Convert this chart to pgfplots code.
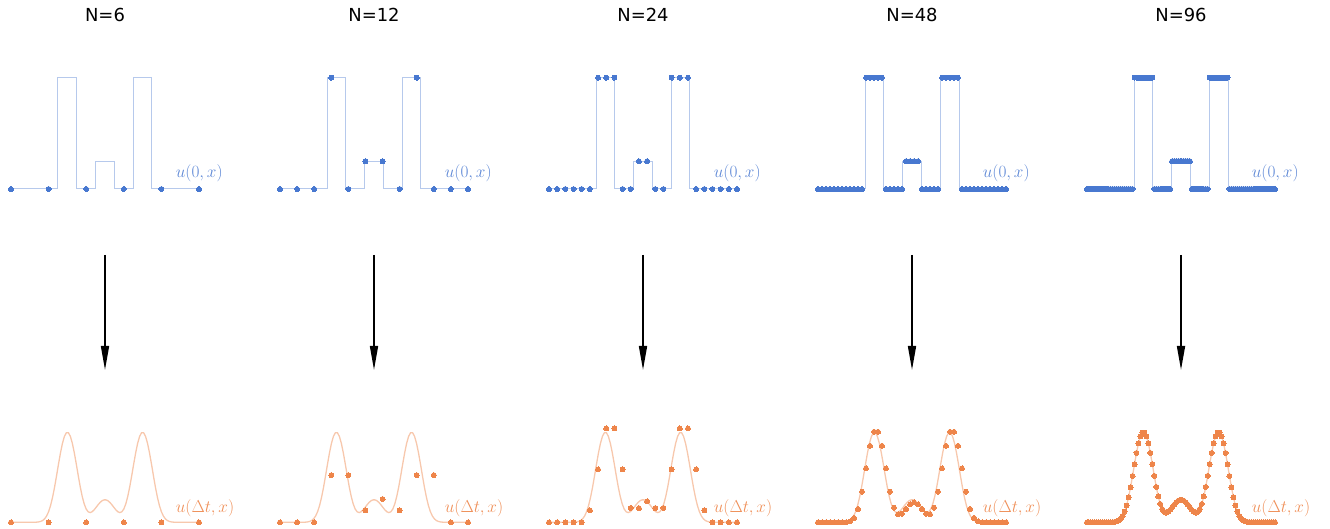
\documentclass[border=0pt]{standalone}
\usepackage{pgfplots}
\pgfplotsset{compat=1.18}
\usepackage{pgfplotstable}
\usepackage{fontspec}
\setmainfont{DejaVu Sans}
\usetikzlibrary{arrows.meta}

\definecolor{cblue}{HTML}{4878D0}
\definecolor{corange}{HTML}{EE854A}

% smooth solution u(dt,x) sampled on the 96-point grid (x index 0..95)
\pgfplotstableread{
i u
0 0
1 0
2 0
3 0
4 0
5 0
6 0
7 0
8 0
9 0
10 0.0001
11 0.0002
12 0.0006
13 0.0015
14 0.0036
15 0.0080
16 0.0164
17 0.0314
18 0.0566
19 0.0953
20 0.1506
21 0.2240
22 0.3138
23 0.4158
24 0.5221
25 0.6232
26 0.7096
27 0.7722
28 0.8052
29 0.8052
30 0.7722
31 0.7098
32 0.6236
33 0.5230
34 0.4178
35 0.3179
36 0.2319
37 0.1648
38 0.1191
39 0.0943
40 0.0874
41 0.0949
42 0.1120
43 0.1341
44 0.1573
45 0.1780
46 0.1933
47 0.2014
48 0.2014
49 0.1933
50 0.1780
51 0.1573
52 0.1341
53 0.1120
54 0.0949
55 0.0874
56 0.0943
57 0.1191
58 0.1648
59 0.2319
60 0.3179
61 0.4178
62 0.5230
63 0.6236
64 0.7098
65 0.7722
66 0.8052
67 0.8052
68 0.7722
69 0.7096
70 0.6232
71 0.5221
72 0.4158
73 0.3138
74 0.2240
75 0.1506
76 0.0953
77 0.0566
78 0.0314
79 0.0164
80 0.0080
81 0.0036
82 0.0015
83 0.0006
84 0.0002
85 0.0001
86 0
87 0
88 0
89 0
90 0
91 0
92 0
93 0
94 0
95 0
}\curve

\pgfplotsset{
  panel/.style={hide axis, scale only axis, width=188bp, height=111.3bp,
    ymin=0, ymax=1, clip=false, anchor=south west},
  dotsB/.style={only marks, mark=*, mark size=2.5bp, color=cblue,
    mark options={fill=cblue, draw=cblue, line width=0pt}},
  dotsO/.style={only marks, mark=*, mark size=2.5bp, color=corange,
    mark options={fill=corange, draw=corange, line width=0pt}},
  stepL/.style={no marks, color=cblue, opacity=0.4, line width=1bp},
  curveL/.style={no marks, color=corange, opacity=0.45, line width=1.3bp},
}
\newcommand{\steppath}{(0,0)(23.75,0)(23.75,1)(33.25,1)(33.25,0)(42.75,0)(42.75,0.25)(52.25,0.25)(52.25,0)(61.75,0)(61.75,1)(71.25,1)(71.25,0)(95,0)}
\newcommand{\toplabel}{\node[anchor=west, inner sep=0pt, text=cblue!88!white, font=\fontsize{16}{19}\selectfont] at (axis cs:83.2,0.144) {$u(0,x)$};}
\newcommand{\botlabel}{\node[anchor=west, inner sep=0pt, text=corange!92!white, font=\fontsize{16}{19}\selectfont] at (axis cs:83.2,0.128) {$u(\Delta t,x)$};}

\begin{document}
\begin{tikzpicture}
\useasboundingbox (0bp,0bp) rectangle (1330bp,529bp);

% ---------------- titles and arrows
\foreach \xx/\tt in {105/6,374/12,643/24,912/48,1181/96}{
  \node[font=\fontsize{18}{22}\selectfont, inner sep=0pt] at (\xx bp,514bp) {N=\tt};
  \draw[line width=1.6bp, -{Triangle[length=24bp,width=8bp]}] (\xx bp,274bp) -- (\xx bp,159bp);
}

% ================= N=6
\begin{axis}[panel, at={(11bp,340bp)}, xmin=0, xmax=95]
  \addplot[stepL] coordinates {\steppath};
  \toplabel
\end{axis}
\begin{axis}[panel, at={(11bp,340bp)}, xmin=0, xmax=5]
  \addplot[dotsB] coordinates {(0,0)(1,0)(2,0)(3,0)(4,0)(5,0)};
\end{axis}
\begin{axis}[panel, at={(11bp,6.7bp)}, xmin=0, xmax=95]
  \addplot[curveL] table[x=i,y=u] {\curve};
  \botlabel
\end{axis}
\begin{axis}[panel, at={(11bp,6.7bp)}, xmin=0, xmax=5]
  \addplot[dotsO] coordinates {(0,0)(1,0)(2,0)(3,0)(4,0)(5,0)};
\end{axis}

% ================= N=12
\begin{axis}[panel, at={(280bp,340bp)}, xmin=0, xmax=95]
  \addplot[stepL] coordinates {\steppath};
  \toplabel
\end{axis}
\begin{axis}[panel, at={(280bp,340bp)}, xmin=0, xmax=11]
  \addplot[dotsB] coordinates {(0,0)(1,0)(2,0)(3,1)(4,0)(5,0.25)(6,0.25)(7,0)(8,1)(9,0)(10,0)(11,0)};
\end{axis}
\begin{axis}[panel, at={(280bp,6.7bp)}, xmin=0, xmax=95]
  \addplot[curveL] table[x=i,y=u] {\curve};
  \botlabel
\end{axis}
\begin{axis}[panel, at={(280bp,6.7bp)}, xmin=0, xmax=11]
  \addplot[dotsO] coordinates {(0,0)(1,0)(2,0)(3,0.424)(4,0.424)(5,0.108)(6,0.209)(7,0.108)(8,0.424)(9,0.424)(10,0)(11,0)};
\end{axis}

% ================= N=24
\begin{axis}[panel, at={(549bp,340bp)}, xmin=0, xmax=95]
  \addplot[stepL] coordinates {\steppath};
  \toplabel
\end{axis}
\begin{axis}[panel, at={(549bp,340bp)}, xmin=0, xmax=23]
  \addplot[dotsB] coordinates {(0,0)(1,0)(2,0)(3,0)(4,0)(5,0)(6,1)(7,1)(8,1)(9,0)(10,0)(11,0.25)(12,0.25)(13,0)(14,0)(15,1)(16,1)(17,1)(18,0)(19,0)(20,0)(21,0)(22,0)(23,0)};
\end{axis}
\begin{axis}[panel, at={(549bp,6.7bp)}, xmin=0, xmax=95]
  \addplot[curveL] table[x=i,y=u] {\curve};
  \botlabel
\end{axis}
\begin{axis}[panel, at={(549bp,6.7bp)}, xmin=0, xmax=23]
  \addplot[dotsO] coordinates {(0,0)(1,0)(2,0)(3,0)(4,0)(5,0.108)(6,0.475)(7,0.843)(8,0.843)(9,0.475)(10,0.129)(11,0.128)(12,0.188)(13,0.128)(14,0.129)(15,0.475)(16,0.843)(17,0.843)(18,0.475)(19,0.108)(20,0)(21,0)(22,0)(23,0)};
\end{axis}

% ================= N=48
\begin{axis}[panel, at={(818bp,340bp)}, xmin=0, xmax=95]
  \addplot[stepL] coordinates {\steppath};
  \toplabel
\end{axis}
\begin{axis}[panel, at={(818bp,340bp)}, xmin=0, xmax=47]
  \addplot[dotsB] coordinates {(0,0)(1,0)(2,0)(3,0)(4,0)(5,0)(6,0)(7,0)(8,0)(9,0)(10,0)(11,0)(12,1)(13,1)(14,1)(15,1)(16,1)(17,0)(18,0)(19,0)(20,0)(21,0)(22,0.25)(23,0.25)(24,0.25)(25,0.25)(26,0)(27,0)(28,0)(29,0)(30,0)(31,1)(32,1)(33,1)(34,1)(35,1)(36,0)(37,0)(38,0)(39,0)(40,0)(41,0)(42,0)(43,0)(44,0)(45,0)(46,0)(47,0)};
\end{axis}
\begin{axis}[panel, at={(818bp,6.7bp)}, xmin=0, xmax=95]
  \addplot[curveL] table[x=i,y=u] {\curve};
  \botlabel
\end{axis}
\begin{axis}[panel, at={(818bp,6.7bp)}, xmin=0, xmax=47]
  \addplot[dotsO] coordinates {(0,0)(1,0)(2,0)(3,0)(4,0)(5,0)(6,0)(7,0)(8,0.008)(9,0.039)(10,0.119)(11,0.275)(12,0.484)(13,0.687)(14,0.813)(15,0.813)(16,0.687)(17,0.484)(18,0.275)(19,0.131)(20,0.072)(21,0.077)(22,0.119)(23,0.160)(24,0.179)(25,0.160)(26,0.119)(27,0.077)(28,0.072)(29,0.131)(30,0.275)(31,0.484)(32,0.687)(33,0.813)(34,0.813)(35,0.687)(36,0.484)(37,0.275)(38,0.119)(39,0.039)(40,0.008)(41,0)(42,0)(43,0)(44,0)(45,0)(46,0)(47,0)};
\end{axis}

% ================= N=96
\begin{axis}[panel, at={(1087bp,340bp)}, xmin=0, xmax=95]
  \addplot[stepL] coordinates {\steppath};
  \addplot[dotsB] coordinates {(0,0)(1,0)(2,0)(3,0)(4,0)(5,0)(6,0)(7,0)(8,0)(9,0)(10,0)(11,0)(12,0)(13,0)(14,0)(15,0)(16,0)(17,0)(18,0)(19,0)(20,0)(21,0)(22,0)(23,0)(24,1)(25,1)(26,1)(27,1)(28,1)(29,1)(30,1)(31,1)(32,1)(33,1)(34,0)(35,0)(36,0)(37,0)(38,0)(39,0)(40,0)(41,0)(42,0)(43,0.25)(44,0.25)(45,0.25)(46,0.25)(47,0.25)(48,0.25)(49,0.25)(50,0.25)(51,0.25)(52,0.25)(53,0)(54,0)(55,0)(56,0)(57,0)(58,0)(59,0)(60,0)(61,0)(62,1)(63,1)(64,1)(65,1)(66,1)(67,1)(68,1)(69,1)(70,1)(71,1)(72,0)(73,0)(74,0)(75,0)(76,0)(77,0)(78,0)(79,0)(80,0)(81,0)(82,0)(83,0)(84,0)(85,0)(86,0)(87,0)(88,0)(89,0)(90,0)(91,0)(92,0)(93,0)(94,0)(95,0)};
  \toplabel
\end{axis}
\begin{axis}[panel, at={(1087bp,6.7bp)}, xmin=0, xmax=95]
  \addplot[curveL] table[x=i,y=u] {\curve};
  \addplot[dotsO] table[x=i,y=u] {\curve};
  \botlabel
\end{axis}

\end{tikzpicture}
\end{document}
